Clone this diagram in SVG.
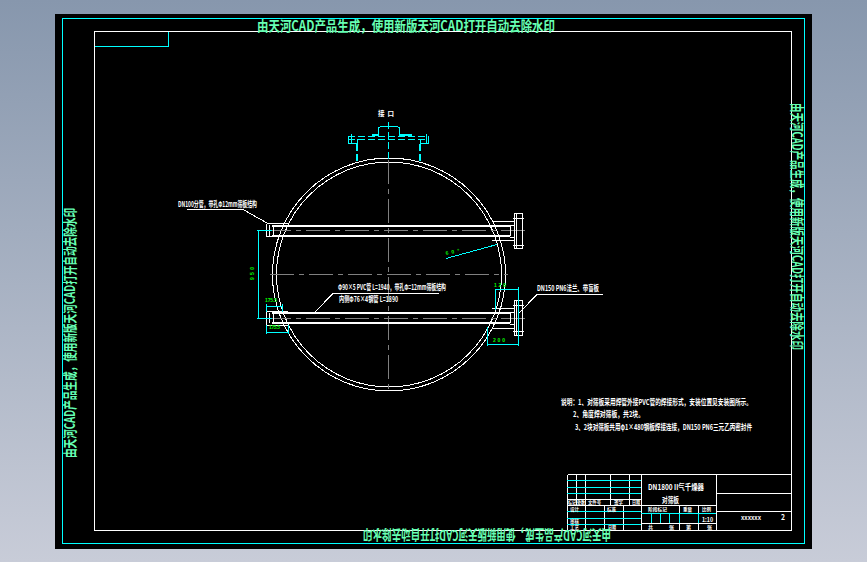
<svg xmlns="http://www.w3.org/2000/svg" width="867" height="562" viewBox="0 0 867 562">
<defs>
<linearGradient id="bg" x1="0" y1="0" x2="0" y2="1"><stop offset="0" stop-color="#8797ad"/><stop offset="1" stop-color="#c8ccd8"/></linearGradient>
</defs>
<style>
path,circle,rect{shape-rendering:crispEdges}
.w{stroke:#fff;fill:none;stroke-width:1}
.p{stroke:#fff;fill:none;stroke-width:2}
.c{stroke:#0ff;fill:none;stroke-width:1}
.g{stroke:#808080;fill:none;stroke-width:1;stroke-dasharray:24 5 5 5}
.cd{stroke:#0ff;fill:none;stroke-width:1;stroke-dasharray:7 3}
.cdb{stroke:#0ff;fill:none;stroke-width:2;stroke-dasharray:7 3}
.cb{stroke:#0ff;fill:none;stroke-width:2}
.wm{fill:#66ffb3;font-family:"Noto Sans CJK SC","Liberation Sans",sans-serif;font-size:14px;font-weight:700}
.t{fill:#fff;font-family:"Noto Sans CJK SC","Liberation Sans",sans-serif;font-size:8px;font-weight:700}
.s{fill:#fff;font-family:"Noto Sans CJK SC","Liberation Sans",sans-serif;font-size:5px;font-weight:700}
.d{fill:#0f0;font-family:"Liberation Sans",sans-serif;font-size:5px;font-weight:700}
</style>
<rect width="867" height="562" fill="url(#bg)"/>
<rect x="55" y="14" width="757" height="535" fill="#000"/>
<g id="frame">
<rect x="62.500" y="18.500" width="742" height="525" class="c"/>
<rect x="94.500" y="31.500" width="697" height="499" class="w"/>
<path d="M94.500 46.500H168.500V31.500" class="c"/>
</g>
<g id="vessel">
<circle cx="389" cy="274.500" r="116.500" class="w"/>
<circle cx="389" cy="274.500" r="112.500" class="w"/>
<path d="M270 274.500H508" class="g"/>
<path d="M388.500 160V393" class="g"/>
</g>
<g id="top-nozzle">
<path d="M348 136.500H428M348 139.500H428M388.500 122V160" class="cd"/>
<path d="M357 144V161M420 144V161" class="cdb"/>
<path d="M378.500 135V128L381 126H397L399.500 128V135M351 134V144M426 134V144M348.500 136V143.500H357V139M428.500 136V143.500H420V139" class="c"/>
<path d="M372 135H379M399 135H412" class="cb"/>
<text class="s" x="378" y="116" textLength="16" lengthAdjust="spacing" style="font-size:6.500px">接 口</text>
</g>
<g id="upper-pipe">
<path d="M272 226H510M272 236H510" class="p"/>
<path d="M267 230.500H530" class="g"/>
<path d="M266.500 223.500V236.500H288M266.500 223.500H288M269.500 225V236M273.500 225V236" class="w"/>
<path d="M510.500 226V236M492 221.500H514M492 240.500H514M509.500 225H514M509.500 237H514" class="w"/>
<rect x="514.500" y="213.500" width="8" height="35" class="w"/>
<path d="M516.500 214V248M513 218.500H524M513 245.500H524" class="w"/>
</g>
<g id="lower-pipe">
<path d="M272 313H510M272 323H510" class="p"/>
<path d="M267 318.500H530" class="g"/>
<path d="M266.500 311.500V325.500H288M266.500 311.500H288M269.500 313V323M273.500 313V323" class="w"/>
<path d="M510.500 313V323M492 308.500H514M492 328.500H514M509.500 312H514M509.500 324H514" class="w"/>
<rect x="514.500" y="300.500" width="8" height="35" class="w"/>
<path d="M516.500 301V335M513 305.500H524M513 331.500H524" class="w"/>
</g>
<g id="connectors">
<path d="M257 230.500H272M257 318.500H272M258.500 230V319" class="c"/>
<path d="M266.500 304V312M282.500 304V312M266 306.500H283" class="c"/>
<path d="M266.500 325V334M288.500 325V334M266 332.500H289" class="c"/>
<path d="M446 258.500L497 244.500" class="c"/>
<path d="M495.500 289V310M518.500 287V346M495 289.500H519M487.500 327V346M487 344.500H519" class="c"/>
<path d="M187 209.500H243L267 223" class="w"/>
<path d="M333 293.500H439M333 293.500L315 312" class="w"/>
<path d="M537 294.500H603M537 294.500L519 313" class="w"/>
</g>
<g id="labels">
<text class="t" x="178" y="207" textLength="79" lengthAdjust="spacingAndGlyphs">DN100分管，带孔Φ12mm筛板结构</text>
<text class="t" x="338" y="290" textLength="108" lengthAdjust="spacingAndGlyphs">Φ90×5 PVC管 L=1940，带孔Φ=12mm筛板结构</text>
<text class="t" x="339" y="302" textLength="59" lengthAdjust="spacingAndGlyphs">内侧Φ76×4钢管 L=1890</text>
<text class="t" x="537" y="291" textLength="62" lengthAdjust="spacingAndGlyphs">DN150 PN6法兰、带盲板</text>
<text class="d" transform="translate(254 280) rotate(-90)" textLength="13">950</text>
<text class="d" x="265" y="302" textLength="12">175.5</text>
<text class="d" x="269" y="329" textLength="11">175.5</text>
<text class="d" x="446" y="255" transform="rotate(-12 446 255)" textLength="14">60°</text>
<text class="d" x="494" y="287" textLength="12">120</text>
<text class="d" x="493" y="342" textLength="12">200</text>
</g>
<g id="notes">
<text class="t" x="561" y="405" textLength="191" lengthAdjust="spacingAndGlyphs">说明：1、对筛板采用焊管外接PVC管的焊接形式，安装位置见安装图所示。</text>
<text class="t" x="573" y="417" textLength="71" lengthAdjust="spacingAndGlyphs">2、角度焊对筛板，共2块。</text>
<text class="t" x="575" y="430" textLength="177" lengthAdjust="spacingAndGlyphs">3、2块对筛板共用φ1×480钢板焊接连接，DN150 PN6三元乙丙密封件</text>
</g>
<g id="title-block">
<path d="M567.500 474.500H791.500M567.500 474.500V530M641.500 474.500V530M716.500 474.500V530M716.500 493.500H791.500M716.500 511.500H791.500M641.500 505.500H716.500M641.500 523.500H716.500" class="w"/>
<path d="M576.500 474V505M585.500 474V530M610.500 474V505M629.500 474V505M567 499.500H641M567 505.500H641M604.500 505V530M623.500 505V530M679.500 505V514M698.500 505V514M679.500 523V530M698.500 523V530" class="w"/>
<path d="M567 480.500H641M567 487.500H641M567 493.500H641" class="c"/>
<path d="M567 511.500H641M567 518.500H641M567 524.500H641" class="c"/>
<path d="M641 513.500H716M651.500 514V523M660.500 514V523M669.500 514V523M679.500 514V523M698.500 514V523" class="c"/>
<text class="t" x="648" y="490" textLength="56" lengthAdjust="spacingAndGlyphs">DN1800 II气千燥器</text>
<text class="t" x="662" y="503" textLength="17" lengthAdjust="spacingAndGlyphs">对筛板</text>
<text class="s" x="741" y="520" textLength="20" lengthAdjust="spacingAndGlyphs">XXXXXX</text>
<text class="t" x="781" y="520" textLength="4" lengthAdjust="spacingAndGlyphs">2</text>
<text class="s" x="568" y="504" textLength="8" lengthAdjust="spacingAndGlyphs">标记</text>
<text class="s" x="577" y="504" textLength="8" lengthAdjust="spacingAndGlyphs">处数</text>
<text class="s" x="588" y="504" textLength="13" lengthAdjust="spacingAndGlyphs">文件号</text>
<text class="s" x="614" y="504" textLength="9" lengthAdjust="spacingAndGlyphs">签字</text>
<text class="s" x="632" y="504" textLength="8" lengthAdjust="spacingAndGlyphs">日期</text>
<text class="s" x="570" y="510.500" textLength="9" lengthAdjust="spacingAndGlyphs">设计</text>
<text class="s" x="607" y="510.500" textLength="9" lengthAdjust="spacingAndGlyphs">标准</text>
<text class="s" x="570" y="523" textLength="9" lengthAdjust="spacingAndGlyphs">审核</text>
<text class="s" x="570" y="529" textLength="9" lengthAdjust="spacingAndGlyphs">工艺</text>
<text class="s" x="608" y="529" textLength="8" lengthAdjust="spacingAndGlyphs">日期</text>
<text class="s" x="648" y="511" textLength="19" lengthAdjust="spacingAndGlyphs">阶段标记</text>
<text class="s" x="683" y="511" textLength="9" lengthAdjust="spacingAndGlyphs">重量</text>
<text class="s" x="702" y="511" textLength="9" lengthAdjust="spacingAndGlyphs">比例</text>
<text class="s" x="702" y="522" textLength="11" lengthAdjust="spacingAndGlyphs" style="font-size:6.500px">1:10</text>
<text class="s" x="648" y="529">共</text>
<text class="s" x="669" y="529">张</text>
<text class="s" x="686" y="529">第</text>
<text class="s" x="707" y="529">张</text>
</g>
<g id="watermarks">
<text class="wm" x="257" y="31" textLength="298" lengthAdjust="spacingAndGlyphs">由天河CAD产品生成，使用新版天河CAD打开自动去除水印</text>
<text class="wm" transform="translate(611 530) rotate(180)" textLength="248" lengthAdjust="spacingAndGlyphs">由天河CAD产品生成，使用新版天河CAD打开自动去除水印</text>
<text class="wm" transform="translate(75 458) rotate(-90)" textLength="250" lengthAdjust="spacingAndGlyphs">由天河CAD产品生成，使用新版天河CAD打开自动去除水印</text>
<text class="wm" transform="translate(792 103) rotate(90)" textLength="247" lengthAdjust="spacingAndGlyphs">由天河CAD产品生成，使用新版天河CAD打开自动去除水印</text>
</g>
</svg>
